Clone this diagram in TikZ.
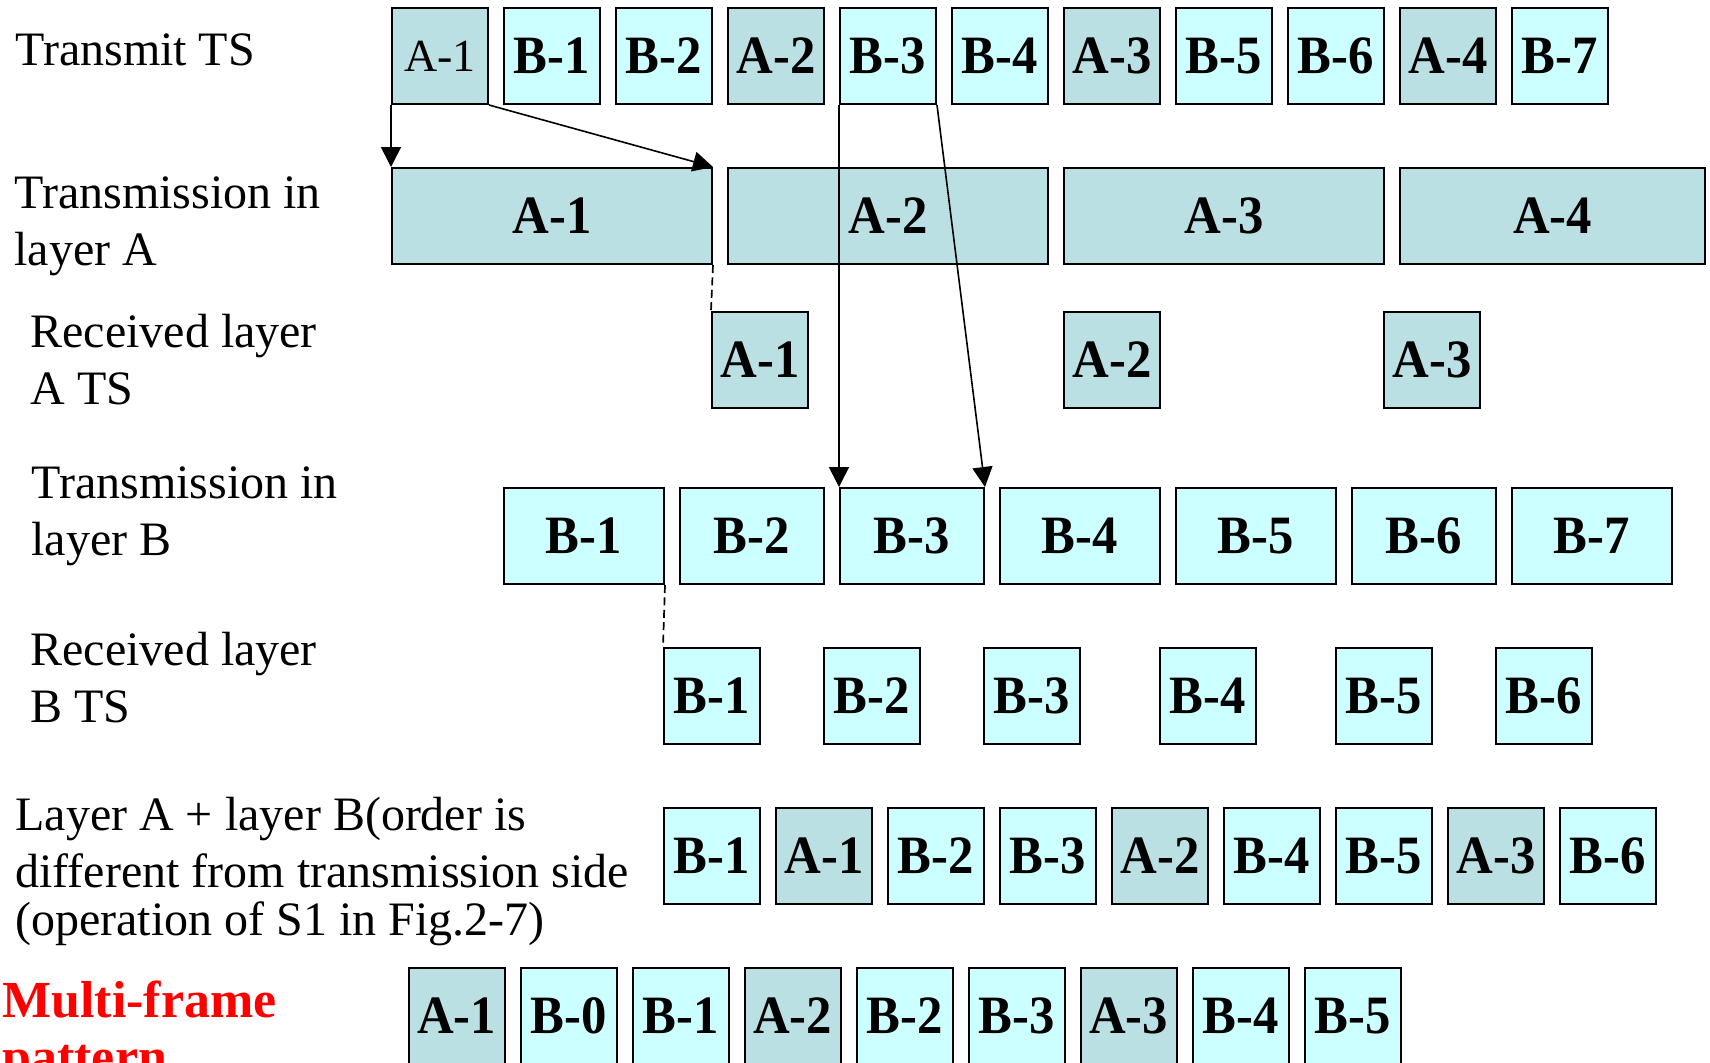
\documentclass[tikz,border=0pt]{standalone}
\usepackage{fontspec}
\setmainfont{Liberation Serif}
\newfontfamily\cellfont[FakeStretch=0.94]{Liberation Serif}
\usetikzlibrary{arrows.meta}

\definecolor{cellA}{HTML}{BBE0E3}
\definecolor{cellB}{HTML}{CCFFFF}

\begin{document}
\begin{tikzpicture}[x=0.5pt, y=-0.5pt,
  cell/.style={draw=black, line width=1pt, inner sep=0pt,
    minimum width=48pt, minimum height=48pt,
    font=\cellfont\bfseries\fontsize{27}{30}\selectfont},
  acell/.style={cell, fill=cellA},
  bcell/.style={cell, fill=cellB},
  wide/.style={minimum width=#1},
  lbl/.style={anchor=base west, inner sep=0pt,
    font=\fontsize{24}{28.5}\selectfont},
  conn/.style={line width=0.8pt, -{Triangle[length=10pt,width=10pt]}},
  guide/.style={line width=0.85pt, dash pattern=on 4pt off 2.2pt}]

\clip (0,0) rectangle (1710,1062);
\fill[white] (0,0) rectangle (1710,1062);

% row labels
\node[lbl] (lTS) at (15,65) {Transmit TS};
\node[lbl] (lLA) at (14,208) {\vtop{\hbox{Transmission in}\hbox{layer A}}};
\node[lbl] (lRA) at (30,347) {\vtop{\hbox{Received layer}\hbox{A TS}}};
\node[lbl] (lLB) at (31,498) {\vtop{\hbox{Transmission in}\hbox{layer B}}};
\node[lbl] (lRB) at (30,665) {\vtop{\hbox{Received layer}\hbox{B TS}}};
\node[lbl] (lAB) at (15,830) {\vtop{\hbox{Layer A + layer B(order is}
  \hbox{different from transmission side}\vskip-4.2pt
  \hbox{(operation of S1 in Fig.2-7)}}};
\node[lbl, font=\bfseries\fontsize{26}{28.5}\selectfont, text=red] (lMF)
  at (2,1017) {\vtop{\hbox{Multi-frame}\hbox{pattern}}};

% transmit TS
\node[acell, font=\fontsize{23}{26}\selectfont] (t1) at (440,56) {A-1};
\node[bcell] (t2)  at (552,56)  {B-1};
\node[bcell] (t3)  at (664,56)  {B-2};
\node[acell] (t4)  at (776,56)  {A-2};
\node[bcell] (t5)  at (888,56)  {B-3};
\node[bcell] (t6)  at (1000,56) {B-4};
\node[acell] (t7)  at (1112,56) {A-3};
\node[bcell] (t8)  at (1224,56) {B-5};
\node[bcell] (t9)  at (1336,56) {B-6};
\node[acell] (t10) at (1448,56) {A-4};
\node[bcell] (t11) at (1560,56) {B-7};

% transmission in layer A
\node[acell, wide=160pt]   (la1) at (552,216)    {A-1};
\node[acell, wide=160pt]   (la2) at (888,216)    {A-2};
\node[acell, wide=160pt]   (la3) at (1224,216)   {A-3};
\node[acell, wide=152.5pt] (la4) at (1552.5,216) {A-4};

% received layer A TS
\node[acell] (ra1) at (760,360)  {A-1};
\node[acell] (ra2) at (1112,360) {A-2};
\node[acell] (ra3) at (1432,360) {A-3};

% transmission in layer B
\node[bcell, wide=80pt] (lb1) at (584,536)  {B-1};
\node[bcell, wide=72pt] (lb2) at (752,536)  {B-2};
\node[bcell, wide=72pt] (lb3) at (912,536)  {B-3};
\node[bcell, wide=80pt] (lb4) at (1080,536) {B-4};
\node[bcell, wide=80pt] (lb5) at (1256,536) {B-5};
\node[bcell, wide=72pt] (lb6) at (1424,536) {B-6};
\node[bcell, wide=80pt] (lb7) at (1592,536) {B-7};

% received layer B TS
\node[bcell] (rb1) at (712,696)  {B-1};
\node[bcell] (rb2) at (872,696)  {B-2};
\node[bcell] (rb3) at (1032,696) {B-3};
\node[bcell] (rb4) at (1208,696) {B-4};
\node[bcell] (rb5) at (1384,696) {B-5};
\node[bcell] (rb6) at (1544,696) {B-6};

% layer A + layer B
\node[bcell] (mx1) at (712,856)  {B-1};
\node[acell] (mx2) at (824,856)  {A-1};
\node[bcell] (mx3) at (936,856)  {B-2};
\node[bcell] (mx4) at (1048,856) {B-3};
\node[acell] (mx5) at (1160,856) {A-2};
\node[bcell] (mx6) at (1272,856) {B-4};
\node[bcell] (mx7) at (1384,856) {B-5};
\node[acell] (mx8) at (1496,856) {A-3};
\node[bcell] (mx9) at (1608,856) {B-6};

% multi-frame pattern
\node[acell] (mf1) at (456.5,1016)  {A-1};
\node[bcell] (mf2) at (568.5,1016)  {B-0};
\node[bcell] (mf3) at (680.5,1016)  {B-1};
\node[acell] (mf4) at (792.5,1016)  {A-2};
\node[bcell] (mf5) at (904.5,1016)  {B-2};
\node[bcell] (mf6) at (1016.5,1016) {B-3};
\node[acell] (mf7) at (1128.5,1016) {A-3};
\node[bcell] (mf8) at (1240.5,1016) {B-4};
\node[bcell] (mf9) at (1352.5,1016) {B-5};

% connectors
\draw[conn] (t1.south west) -- (la1.north west);
\draw[conn] (t1.south east) -- (la1.north east);
\draw[conn] (t5.south west) -- (lb3.north west);
\draw[conn] (t5.south east) -- (lb3.north east);
\draw[guide] (la1.south east) -- (ra1.north west);
\draw[guide] (lb1.south east) -- (rb1.north west);
\end{tikzpicture}
\end{document}
